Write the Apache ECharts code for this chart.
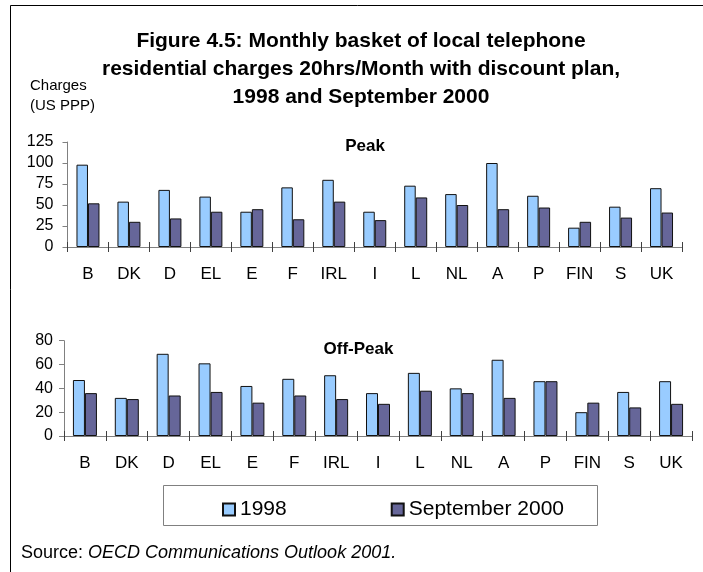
<!DOCTYPE html>
<html><head><meta charset="utf-8">
<script src="https://cdn.jsdelivr.net/npm/echarts@6/dist/echarts.min.js"></script>
<style>html,body{margin:0;padding:0;background:#fff}#c{width:703px;height:572px}</style>
</head><body><div id="c"></div>
<script>
const categories = ['B','DK','D','EL','E','F','IRL','I','L','NL','A','P','FIN','S','UK'];
const peak1998 = [98,54,68,60,42,71,80,42,73,63,100,61,23,48,70];
const peak2000 = [52,30,34,42,45,33,54,32,59,50,45,47,30,35,41];
const off1998 = [47,32,69,61,42,48,51,36,53,40,64,46,20,37,46];
const off2000 = [36,31,34,37,28,34,31,27,38,36,32,46,28,24,27];
const peakTicks = [0,25,50,75,100,125];
const offTicks = [0,20,40,60,80];
const seriesNames = ['1998','September 2000'];

const C1 = '#99CCFF', C2 = '#666699';
const FONT = '"Liberation Sans", Arial, sans-serif';
const chart = echarts.init(document.getElementById('c'), null, {renderer:'canvas'});

function yAxis(grid, ticks, margin){
  return {type:'value', gridIndex:grid, min:ticks[0], max:ticks[ticks.length-1],
    interval:ticks[1]-ticks[0], splitLine:{show:false},
    axisLine:{show:true, lineStyle:{color:'#808080', width:1}},
    axisTick:{show:true, length:5, lineStyle:{color:'#808080'}},
    axisLabel:{color:'#000', fontSize:16, fontFamily:FONT, margin:margin}};
}
function xAxis(grid, showLabel, inside){
  return {type:'category', gridIndex:grid, data:categories, position:'bottom',
    axisLine:{show:true, lineStyle:{color:'#808080', width:1}},
    axisTick:{show:true, inside:inside, length:5, alignWithLabel:false, lineStyle:{color:'#404040'}},
    axisLabel:{show:showLabel, color:'#000', fontSize:17, fontFamily:FONT, margin:19}};
}
function bar(name, data, color, xi, yi, w){
  return {name:name, type:'bar', data:data, xAxisIndex:xi, yAxisIndex:yi, barWidth:w, barGap:'0%',
    itemStyle:{color:color, borderColor:'#111', borderWidth:1}, animation:false};
}

chart.setOption({
  animation:false,
  grid:[
    {left:67.5, right:21, top:142, bottom:325},
    {left:64, right:11, top:340.7, bottom:136}
  ],
  xAxis:[xAxis(0,true,false), xAxis(1,true,false), xAxis(0,false,true), xAxis(1,false,true)],
  yAxis:[yAxis(0,peakTicks,14), yAxis(1,offTicks,11)],
  legend:{left:217, top:494, itemWidth:12, itemHeight:12, itemGap:104, icon:'rect',
    textStyle:{fontSize:21, fontFamily:FONT, color:'#000', padding:[0,0,0,0]},
    data:seriesNames},
  series:[
    bar(seriesNames[0], peak1998, C1, 0, 0, 11.5),
    bar(seriesNames[1], peak2000, C2, 0, 0, 11.5),
    bar(seriesNames[0], off1998, C1, 1, 1, 12),
    bar(seriesNames[1], off2000, C2, 1, 1, 12)
  ],
  graphic:[
    {type:'rect', shape:{x:10.5, y:5.5, width:720, height:600}, style:{fill:null, stroke:'#000', lineWidth:1}, silent:true, z:-1},
    {type:'rect', shape:{x:163.5, y:485.5, width:434, height:40}, style:{fill:null, stroke:'#808080', lineWidth:1}, silent:true},
    {type:'text', style:{x:361, y:69.5, text:'Figure 4.5: Monthly basket of local telephone\nresidential charges 20hrs/Month with discount plan,\n1998 and September 2000',
      textAlign:'center', textVerticalAlign:'middle', font:'bold 21px "Liberation Sans", Arial, sans-serif', lineHeight:28, fill:'#000'}},
    {type:'text', style:{x:30, y:96, text:'Charges\n(US PPP)', font:'15px "Liberation Sans", Arial, sans-serif', lineHeight:20, textVerticalAlign:'middle', fill:'#000'}},
    {type:'text', style:{x:365, y:146, text:'Peak', font:'bold 17px '+FONT, textAlign:'center', textVerticalAlign:'middle', fill:'#000'}},
    {type:'text', style:{x:358.5, y:349, text:'Off-Peak', font:'bold 17px '+FONT, textAlign:'center', textVerticalAlign:'middle', fill:'#000'}},
    {type:'text', style:{x:21, y:553, text:'{n|Source: }{i|OECD Communications Outlook 2001.}', textVerticalAlign:'middle',
      rich:{n:{fontSize:18, fontFamily:FONT, fill:'#000'}, i:{fontSize:18, fontFamily:FONT, fontStyle:'italic', fill:'#000'}}}}
  ]
});
</script></body></html>
